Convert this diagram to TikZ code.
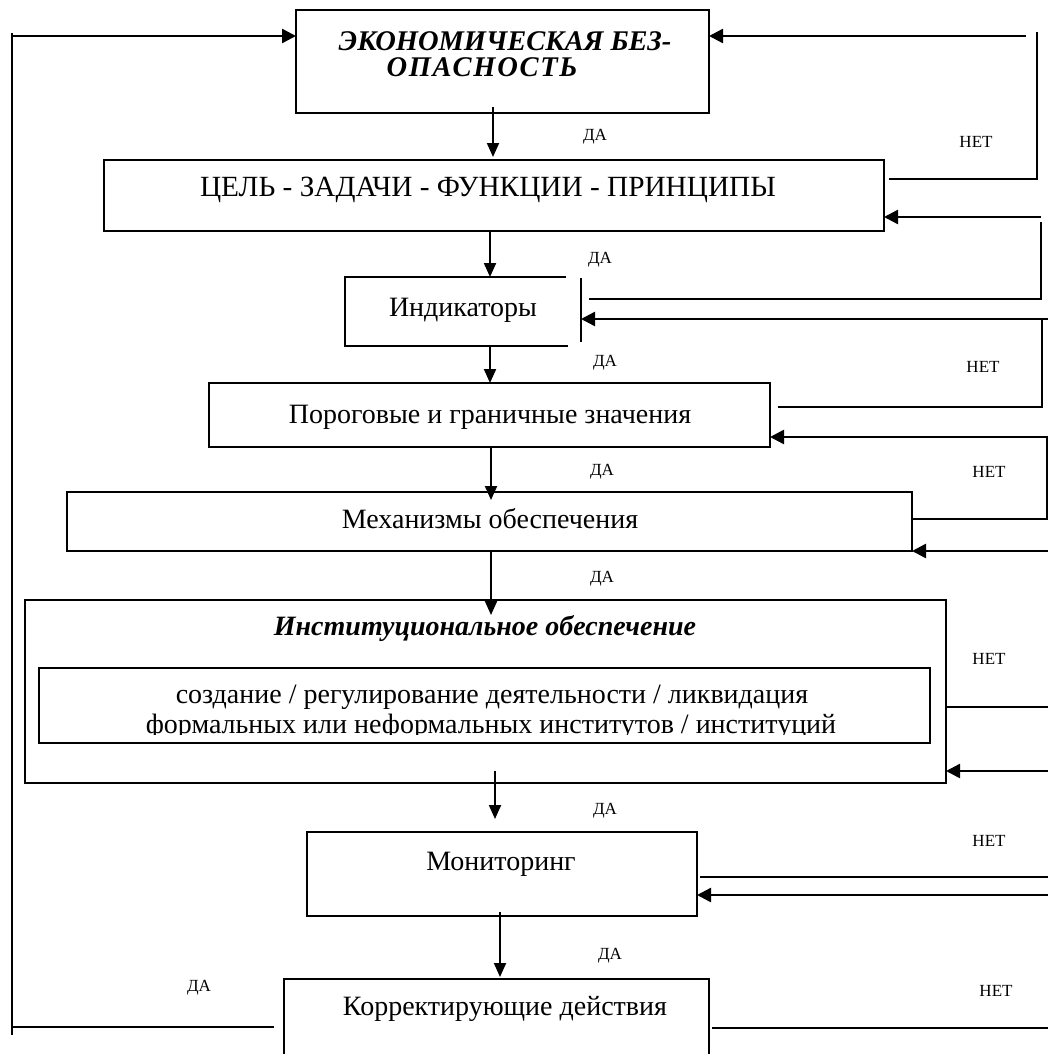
\documentclass[tikz,border=0pt]{standalone}
\usepackage{fontspec}
\setmainfont{Liberation Serif}
\usetikzlibrary{arrows.meta}
\begin{document}
\begin{tikzpicture}[x=1pt, y=-1pt,
  box/.style={draw, line width=1.8pt, inner sep=0pt, outer sep=0pt, anchor=north west},
  main/.style={font=\fontsize{28}{30}\selectfont, inner sep=0pt, anchor=base},
  title/.style={font=\fontsize{28.5}{26}\selectfont\bfseries\itshape, inner sep=0pt, align=center},
  tag/.style={font=\fontsize{17}{19}\selectfont, inner sep=0pt},
  down/.style={line width=2pt, -{Triangle[length=14pt,width=12pt]}},
  back/.style={line width=2.5pt, -{Triangle[length=14pt,width=14pt]}},
  wire/.style={line width=1.8pt}]
\useasboundingbox (0,0) rectangle (1048,1054);
\clip (0,0) rectangle (1048,1054);
\fill[white] (0,0) rectangle (1048,1054);

% ---- boxes ----
\node[box, minimum width=413pt, minimum height=103pt] (eb) at (296,10) {};
\node[box, minimum width=780pt, minimum height=71pt] (goal) at (104,160) {};
% indicators: open on the right, with a separate bar beside it
\coordinate (ind) at (345,277);
\coordinate (indS) at (490,346);
\draw[wire] (566,277) -- (ind) -- (345,346) -- (568,346);
\draw[wire] (581,278) coordinate (indbarT) -- (581,342) coordinate (indbarB);
\node[box, minimum width=561pt, minimum height=64pt] (por) at (209,383) {};
\node[box, minimum width=845pt, minimum height=59pt] (mech) at (67,492) {};
\node[box, line width=1.5pt, minimum width=921pt, minimum height=183pt] (inst) at (25,600) {};
\node[box, minimum width=891pt, minimum height=75pt] (sub) at (39,668) {};
\node[box, minimum width=390pt, minimum height=84pt] (mon) at (307,832) {};
% corrective actions: box runs off the bottom edge
\coordinate (kor) at (496,979);
\draw[wire] (284,1060) -- (284,979) -- (709,979) -- (709,1060);

% ---- texts ----
\node[title] (ebtext) at (505,54.5) {ЭКОНОМИЧЕСКАЯ БЕЗ-\\{\addfontfeatures{LetterSpace=6}ОПАСНОСТЬ}\hspace*{46pt}};
\node[main, font=\fontsize{29.3}{30}\selectfont] at (488,196) {ЦЕЛЬ - ЗАДАЧИ - ФУНКЦИИ - ПРИНЦИПЫ};
\node[main] at (463,316) {Индикаторы};
\node[main] at (490,423) {Пороговые и граничные значения};
\node[main] at (490,528) {Механизмы обеспечения};
\node[main, font=\fontsize{28}{30}\selectfont\bfseries\itshape] at (485,635) {Институциональное обеспечение};
\node[main] at (492,703) {создание / регулирование деятельности / ликвидация};
\begin{scope}
  \clip (39,668) rectangle (930,734);
  \node[main] at (491,733) {формальных или неформальных институтов / институций};
\end{scope}
\node[main] at (501,870) {Мониторинг};
\node[main] at (505,1015) {Корректирующие действия};

% ---- labels ----
\node[tag] at (595,137) {ДА};
\node[tag] at (976,142) {НЕТ};
\node[tag] at (600,260) {ДА};
\node[tag] at (605,363) {ДА};
\node[tag] at (983,367) {НЕТ};
\node[tag] at (602,472) {ДА};
\node[tag] at (989,472) {НЕТ};
\node[tag] at (602,579) {ДА};
\node[tag] at (989,659) {НЕТ};
\node[tag] at (605,811) {ДА};
\node[tag] at (989,841) {НЕТ};
\node[tag] at (610,956) {ДА};
\node[tag] at (199,988) {ДА};
\node[tag] at (996,991) {НЕТ};

% ---- main flow ----
\draw[down, shorten <=-6pt, shorten >=3pt] (eb.south -| 493,0) -- (goal.north -| 493,0);
\draw[down] (goal.south -| 490,0) -- (ind -| 490,0);
\draw[down] (indS) -- (por.north -| 490,0);
\draw[down, shorten >=-8pt] (por.south -| 491,0) -- (mech.north -| 491,0);
\draw[down, shorten >=-15pt] (mech.south -| 491,0) -- (inst.north -| 491,0);
\draw[down, shorten <=-12pt, shorten >=13pt] (inst.south -| 495,0) -- (mon.north -| 495,0);
\draw[down, shorten <=-4pt, shorten >=2pt] (mon.south -| 500,0) -- (kor -| 500,0);

% ---- feedback on the right ----
\draw[wire] (889,179) -- (1037,179) -- (1037,32);
\draw[back] (1026,36) -- (eb.east |- 0,36);
\draw[wire] (589,299) -- (1041,299) -- (1041,222);
\draw[back] (1041,217) -- (goal.east |- 0,217);
\draw[wire] (778,407) -- (1042,407) -- (1042,319);
\draw[back] (1048,319) -- (indbarT |- 0,319);
\draw[wire] (913,519) -- (1047,519) -- (1047,437);
\draw[back] (1048,437) -- (por.east |- 0,437);
\draw[back] (1048,551) -- (mech.south east);
\draw[wire] (inst.east |- 0,707) -- (1048,707);
\draw[back] (1048,771) -- (inst.east |- 0,771);
\draw[wire] (700,877) -- (1048,877);
\draw[back] (1048,895) -- (mon.east |- 0,895);
\draw[wire] (712,1028) -- (1048,1028);

% ---- return on the left ----
\draw[wire] (274,1027) -- (12,1027);
\draw[wire] (12,1035) -- (12,33);
\draw[back] (12,36) -- (eb.west |- 0,36);
\end{tikzpicture}
\end{document}
